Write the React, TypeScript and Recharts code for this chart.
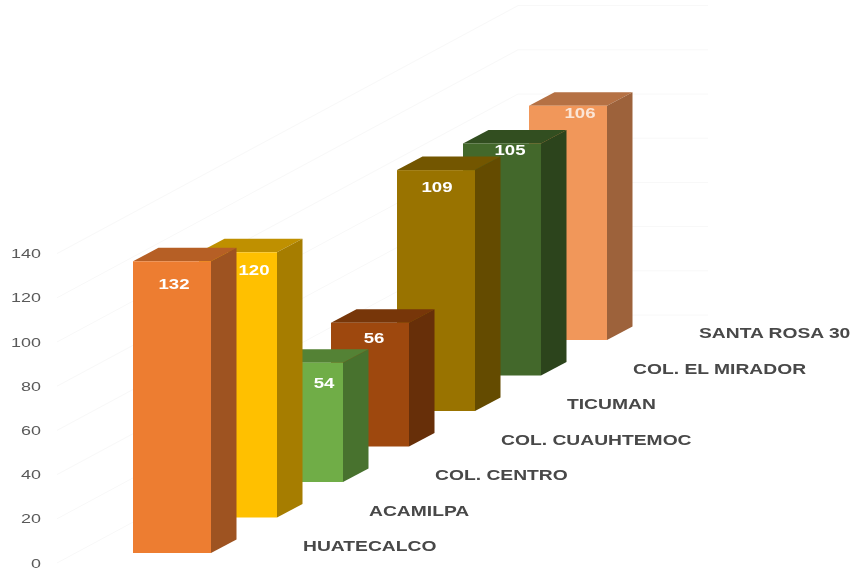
import { BarChart, Bar, XAxis, YAxis, CartesianGrid } from "recharts";

const categories = [
  "HUATECALCO",
  "ACAMILPA",
  "COL. CENTRO",
  "COL. CUAUHTEMOC",
  "TICUMAN",
  "COL. EL MIRADOR",
  "SANTA ROSA 30",
];
const values = [132, 120, 54, 56, 109, 105, 106];
const yTicks = [0, 20, 40, 60, 80, 100, 120, 140];

const FRONT = ["#ED7D31", "#FFC000", "#70AD47", "#9E480E", "#997300", "#43682B", "#F1975A"];
const TOP = ["#B65F25", "#BF9000", "#548235", "#773609", "#735600", "#324E20", "#B57144"];
const SIDE = ["#9E5321", "#A67D00", "#48722E", "#672F09", "#644B00", "#2C441C", "#9D623B"];

// where excel left each value label, relative to the bar's centre / top
const LABEL_DX = [2, 16, 20, 4, 1, 8, 12];
const LABEL_DY = [23, 18, 20, 15, 17, 7, 7];

// the oblique projection: each category steps back this far up the page
const STEP_BACK = 35.5;
const DEPTH_X = 25.5;
const DEPTH_Y = 13.5;
const STRETCH = 1.33; // picture was stretched sideways

const FONT = "'Liberation Sans', Arial, sans-serif";

// front bar is drawn last, so the table goes back to front and the axis is reversed
const data = categories
  .map((name, i) => ({ name, value: values[i] }))
  .reverse();

function WideText({ x, y, anchor, size, weight, fill, children }: any) {
  return (
    <text
      transform={`translate(${x} ${y}) scale(${STRETCH} 1)`}
      textAnchor={anchor}
      fontFamily={FONT}
      fontSize={size}
      fontWeight={weight}
      fill={fill}
    >
      {children}
    </text>
  );
}

function Bar3D(props: any) {
  const { x, y, width, height, payload } = props;
  const i = categories.indexOf(payload.name);
  const left = x - 6;
  const right = x + width + 6;
  const top = y - STEP_BACK * i;
  const bottom = top + height;
  return (
    <g>
      <polygon
        points={`${left},${top} ${left + DEPTH_X},${top - DEPTH_Y} ${right + DEPTH_X},${top - DEPTH_Y} ${right},${top}`}
        fill={TOP[i]}
      />
      <polygon
        points={`${right},${top} ${right + DEPTH_X},${top - DEPTH_Y} ${right + DEPTH_X},${bottom - DEPTH_Y} ${right},${bottom}`}
        fill={SIDE[i]}
      />
      <rect x={left} y={top} width={right - left} height={bottom - top} fill={FRONT[i]} />
      <WideText
        x={(left + right) / 2 + LABEL_DX[i]}
        y={top + LABEL_DY[i] + 5}
        anchor="middle"
        size={14}
        weight="bold"
        fill={i === 6 ? "#FBE5D6" : "#FFFFFF"}
      >
        {payload.value}
      </WideText>
    </g>
  );
}

// grid line runs along the floor towards the back, then across the back wall
function FloorLine(props: any) {
  const floorY = props.y1 + 10;
  return (
    <polyline
      points={`57,${floorY} 518,${floorY - 248} 708,${floorY - 248}`}
      fill="none"
      stroke="#F8F8F8"
      strokeWidth={1}
    />
  );
}

function YTick(props: any) {
  const { y, payload } = props;
  return (
    <WideText x={41} y={y + 14.5} anchor="end" size={13.5} weight="normal" fill="#595959">
      {payload.value}
    </WideText>
  );
}

function XTick(props: any) {
  const { x, y, payload } = props;
  const i = categories.indexOf(payload.value);
  return (
    <WideText x={x + 131} y={y - 2 - STEP_BACK * i} anchor="start" size={14.5} weight="bold" fill="#484848">
      {payload.value}
    </WideText>
  );
}

export default function App() {
  return (
    <div
      style={{
        position: "absolute",
        left: 0,
        top: 0,
        width: 853,
        height: 569,
        background: "#fff",
        filter: "blur(0.4px)",
      }}
    >
      <BarChart
        width={853}
        height={569}
        data={data}
        barCategoryGap={0}
        margin={{ top: 243.6, right: 252, bottom: 15, left: 138 }}
      >
        <CartesianGrid vertical={false} horizontal={FloorLine} />
        <YAxis
          type="number"
          width={1}
          domain={[0, 140]}
          ticks={yTicks}
          interval={0}
          axisLine={false}
          tickLine={false}
          tickSize={0}
          tickMargin={0}
          tick={YTick}
        />
        <XAxis
          dataKey="name"
          reversed
          height={1}
          interval={0}
          axisLine={false}
          tickLine={false}
          tickSize={0}
          tickMargin={0}
          tick={XTick}
        />
        <Bar dataKey="value" isAnimationActive={false} shape={Bar3D} />
      </BarChart>
    </div>
  );
}
